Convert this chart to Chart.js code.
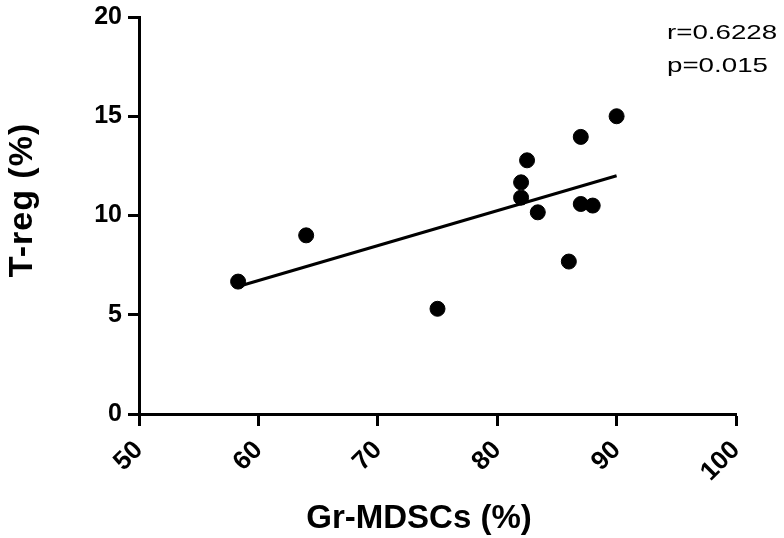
<!DOCTYPE html>
<html lang="en">

<head>
    <meta charset="UTF-8">
    <title>T-reg vs Gr-MDSCs</title>
    <script src="https://cdn.jsdelivr.net/npm/chart.js"></script>
    <style>
        body {
            margin: 0;
            background-color: #fff;
        }

        #chartContainer {
            width: 784px;
            height: 538px;
        }
    </style>
</head>

<body>
    <div id="chartContainer">
        <canvas id="chartCanvas"></canvas>
    </div>

    <script>
        // data
        const grMDSCs = [58.3, 64.0, 75.0, 82.0, 82.0, 82.5, 83.4, 86.0, 87.0, 87.0, 88.0, 90.0];
        const tReg = [6.67, 9.0, 5.3, 11.67, 10.9, 12.78, 10.16, 7.68, 13.96, 10.58, 10.5, 15.0];
        const fitX = [58.3, 90.0];
        const fitY = [6.42, 12.0];
        const xTicks = [50, 60, 70, 80, 90, 100];
        const yTicks = [0, 5, 10, 15, 20];
        const xTitle = 'Gr-MDSCs (%)';
        const yTitle = 'T-reg (%)';
        const statsText = ['r=0.6228', 'p=0.015'];

        const points = grMDSCs.map((x, i) => ({ x: x, y: tReg[i] }));
        const fitLine = fitX.map((x, i) => ({ x: x, y: fitY[i] }));
        const FONT = '"Liberation Sans", Arial, sans-serif';

        // axis titles and the r / p annotation
        const textPlugin = {
            id: 'texts',
            afterDraw(chart) {
                const ctx = chart.ctx;
                ctx.save();
                ctx.fillStyle = '#000';
                ctx.textBaseline = 'alphabetic';

                ctx.font = 'bold 33px ' + FONT;
                ctx.textAlign = 'center';
                ctx.fillText(xTitle, 419, 528);

                ctx.save();
                ctx.translate(32, 200);
                ctx.rotate(-Math.PI / 2);
                ctx.font = 'bold 34px ' + FONT;
                ctx.letterSpacing = '1px';
                ctx.fillText(yTitle, 0, 0);
                ctx.restore();

                // the stats text is stretched sideways in the original
                ctx.font = '21px ' + FONT;
                ctx.textAlign = 'left';
                ctx.save();
                ctx.translate(667, 0);
                ctx.scale(1.32, 1);
                ctx.fillText(statsText[0], 0, 38.5);
                ctx.fillText(statsText[1], 0, 72);
                ctx.restore();
                ctx.restore();
            }
        };

        const ctx = document.getElementById('chartCanvas').getContext('2d');
        new Chart(ctx, {
            type: 'scatter',
            data: {
                datasets: [
                    {
                        label: 'fit',
                        type: 'line',
                        data: fitLine,
                        borderColor: '#000',
                        borderWidth: 3,
                        pointRadius: 0,
                        fill: false
                    },
                    {
                        label: 'T-reg',
                        data: points,
                        backgroundColor: '#000',
                        borderColor: '#000',
                        pointRadius: 7.5,
                        pointHoverRadius: 7.5
                    }
                ]
            },
            options: {
                responsive: true,
                maintainAspectRatio: false,
                animation: false,
                layout: {
                    padding: { left: 10, right: 48, top: 17, bottom: 0 }
                },
                plugins: {
                    legend: { display: false },
                    tooltip: { enabled: false }
                },
                scales: {
                    x: {
                        type: 'linear',
                        min: 50,
                        max: 100,
                        afterBuildTicks: (axis) => { axis.ticks = xTicks.map(v => ({ value: v })); },
                        afterFit: (axis) => {
                            axis.height = 538 - 414;
                            axis.paddingLeft = 0;
                            axis.paddingRight = 0;
                        },
                        ticks: {
                            color: '#000',
                            font: { family: FONT, size: 26, weight: 'bold' },
                            minRotation: 45,
                            maxRotation: 45,
                            padding: 9
                        },
                        grid: {
                            display: true,
                            drawOnChartArea: false,
                            drawTicks: true,
                            tickLength: 12,
                            tickWidth: 3,
                            color: '#000'
                        },
                        border: { display: true, color: '#000', width: 3 }
                    },
                    y: {
                        min: 0,
                        max: 20,
                        afterBuildTicks: (axis) => { axis.ticks = yTicks.map(v => ({ value: v })); },
                        afterFit: (axis) => {
                            axis.width = 139 - 10;
                            axis.paddingTop = 0;
                            axis.paddingBottom = 0;
                        },
                        ticks: {
                            color: '#000',
                            font: { family: FONT, size: 25, weight: 'bold' },
                            padding: 6
                        },
                        grid: {
                            display: true,
                            drawOnChartArea: false,
                            drawTicks: true,
                            tickLength: 11,
                            tickWidth: 3,
                            color: '#000'
                        },
                        border: { display: true, color: '#000', width: 3 }
                    }
                }
            },
            plugins: [textPlugin]
        });
    </script>
</body>

</html>
